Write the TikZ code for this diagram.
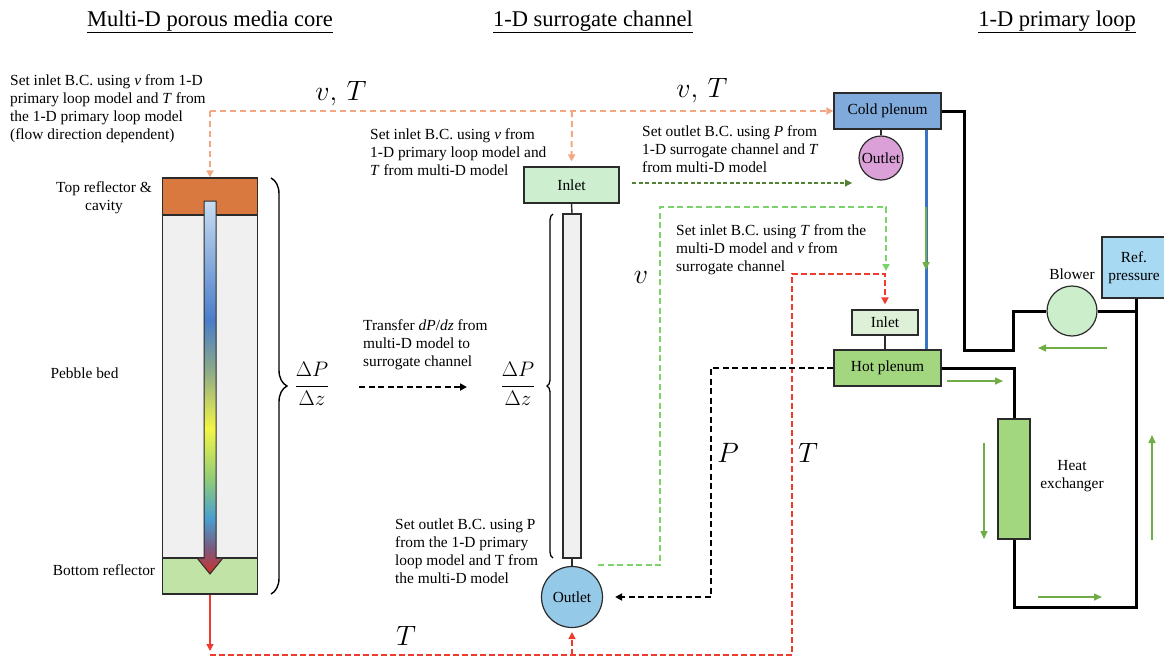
\RequirePackage{fix-cm}
\documentclass[tikz,border=0pt]{standalone}
\usepackage{fontspec}
\setmainfont{Liberation Serif}
\usetikzlibrary{arrows.meta,decorations.pathreplacing}

% fills and line colours
\definecolor{boxline}{HTML}{2B2B2B}
\definecolor{topref}{HTML}{D9793F}
\definecolor{bedgrey}{HTML}{F0F0F0}
\definecolor{botref}{HTML}{C1E3A5}
\definecolor{sinlet}{HTML}{CDEFD0}
\definecolor{soutlet}{HTML}{95C9E8}
\definecolor{coldfill}{HTML}{7FAADB}
\definecolor{poutlet}{HTML}{DCA0D9}
\definecolor{hotfill}{HTML}{A3D77F}
\definecolor{hinlet}{HTML}{DEF0D8}
\definecolor{blowerfill}{HTML}{CCEECB}
\definecolor{reffill}{HTML}{A8D9F3}
\definecolor{orgdash}{HTML}{F2A882}
\definecolor{dkgreen}{HTML}{548235}
\definecolor{ltgreen}{HTML}{7BD46A}
\definecolor{redline}{HTML}{EE3B2E}
\definecolor{bluepipe}{HTML}{3A72C4}
\definecolor{flowgreen}{HTML}{70AD47}
% temperature colours along the core flow arrow
\definecolor{flowtop}{HTML}{C8DDF2}
\definecolor{flowblue}{HTML}{4A7DC9}
\definecolor{flowteal}{HTML}{8AA88A}
\definecolor{flowyellow}{HTML}{F3F545}
\definecolor{flowlgreen}{HTML}{8CCB7A}
\definecolor{flowcyan}{HTML}{4A9FD0}
\definecolor{flowpurple}{HTML}{7A5A80}
\definecolor{flowred}{HTML}{D03028}

\pgfdeclareverticalshading{coreflow}{100bp}{%
  color(0bp)=(flowred); color(25bp)=(flowred);
  color(28.5bp)=(flowpurple); color(32.5bp)=(flowcyan);
  color(37.5bp)=(flowlgreen); color(44.5bp)=(flowyellow);
  color(52.5bp)=(flowteal); color(59bp)=(flowblue);
  color(75bp)=(flowtop); color(100bp)=(flowtop)}

\newcommand\bodyfont{\fontsize{15.4}{18}\selectfont}
\newcommand\headfont{\fontsize{22.5}{27}\selectfont}
\newcommand\symfont{\fontsize{28}{32}\selectfont}
\newcommand\fracfont{\fontsize{21}{25}\selectfont}

\tikzset{
  x=1pt, y=-1pt,
  box/.style={draw=boxline, line width=1.2pt, inner sep=0pt, font=\bodyfont},
  lbl/.style={inner sep=0pt, align=left, font=\bodyfont},
  head/.style={inner sep=0pt, font=\headfont},
  sym/.style={inner sep=0pt, font=\symfont},
  tip/.style={-{Triangle[length=7pt,width=7pt]}},
  link/.style={draw=boxline, line width=1.4pt},
  orgline/.style={draw=orgdash, line width=2pt, dash pattern=on 6pt off 4pt, tip},
  dgline/.style={draw=dkgreen, line width=1.2pt, dash pattern=on 4pt off 2.5pt, tip},
  lgline/.style={draw=ltgreen, line width=1.8pt, dash pattern=on 6pt off 3.5pt, tip},
  redd/.style={draw=redline, line width=1.8pt, dash pattern=on 6pt off 3pt, tip},
  reds/.style={draw=redline, line width=1.5pt, tip},
  blkd/.style={draw=black, line width=1.8pt, dash pattern=on 6pt off 3.5pt, tip},
  loopline/.style={draw=black, line width=3pt, line join=miter},
  pipe/.style={draw=bluepipe, line width=3pt},
  flow/.style={draw=flowgreen, line width=1.5pt, -{Triangle[length=8pt,width=7pt]}},
  bigbrace/.style={draw=black, line width=1.4pt, decorate, decoration={brace, amplitude=16pt}},
  smallbrace/.style={draw=black, line width=1.3pt, decorate, decoration={brace, amplitude=6pt}},
}

\begin{document}
\begin{tikzpicture}
\useasboundingbox (0,0) rectangle (1164,656);

% ---------- column headings ----------
\node[head, anchor=base] (h1) at (210,26) {\underline{Multi-D porous media core}};
\node[head, anchor=base] (h2) at (593,26) {\underline{1-D surrogate channel}};
\node[head, anchor=base] (h3) at (1057,26) {\underline{1-D primary loop}};

% ---------- porous media core ----------
\node[box, fill=topref, minimum width=95pt, minimum height=37pt] (coreTop) at (210,196.5) {};
\node[box, fill=bedgrey, minimum width=95pt, minimum height=343pt] (coreBed) at (210,386.5) {};
\node[box, fill=botref, minimum width=95pt, minimum height=36pt] (coreBot) at (210,576) {};
\shadedraw[shading=coreflow, draw=boxline, line width=1pt]
  (204,201) -- (216,201) -- (216,558) -- (223,558) -- (210,574) -- (197,558) -- (204,558) -- cycle;

\node[lbl, align=center, anchor=north] (topLbl) at (104,181.5) {Top reflector \&\\cavity};
\node[lbl, anchor=base] (bedLbl) at (84.5,378) {Pebble bed};
\node[lbl, anchor=base] (botLbl) at (104,575) {Bottom reflector};

\draw[bigbrace] (271,178) -- (271,594);
\node[inner sep=0pt, font=\fracfont] (dpdz1) at (312,384) {$\displaystyle\frac{\Delta P}{\Delta z}$};

% ---------- transfer of the pressure gradient ----------
\node[lbl, anchor=north west] (xferLbl) at (363,319.5)
  {Transfer \textit{dP}/\textit{dz} from\\multi-D model to\\surrogate channel};
\coordinate (xferA) at (359,387);
\coordinate (xferB) at (467,387);
\draw[blkd] (xferA) -- (xferB);

% ---------- surrogate channel ----------
\node[inner sep=0pt, font=\fracfont] (dpdz2) at (518,384) {$\displaystyle\frac{\Delta P}{\Delta z}$};
\node[box, fill=sinlet, minimum width=95pt, minimum height=36pt] (sInlet) at (571.5,185) {Inlet};
\node[box, fill=bedgrey, minimum width=18pt, minimum height=344pt] (chan) at (572,386) {};
\node[box, circle, fill=soutlet, minimum size=61pt] (sOutlet) at (572,597) {Outlet};
\draw[link] (sInlet.south) -- (chan.north);
\draw[link] (chan.south) -- (sOutlet.north);
\draw[smallbrace] (553,558) -- (553,214);

% ---------- primary loop ----------
\node[box, fill=coldfill, minimum width=107pt, minimum height=36pt] (cold) at (887.5,111) {Cold plenum};
\node[box, circle, fill=poutlet, minimum size=44pt] (pOutlet) at (881,158) {Outlet};
\node[box, fill=hotfill, minimum width=107pt, minimum height=36pt] (hot) at (887.5,368) {Hot plenum};
\node[box, fill=hinlet, minimum width=66pt, minimum height=25pt] (hInlet) at (885,322.5) {Inlet};
\node[box, circle, fill=blowerfill, minimum size=50pt] (blower) at (1072,311) {};
\node[box, fill=reffill, minimum width=64pt, minimum height=61pt, align=center] (ref) at (1134,267.5) {Ref.\\pressure};
\node[box, fill=hotfill, minimum width=32pt, minimum height=120pt] (hx) at (1014,479) {};

\node[lbl, anchor=base] (blowerLbl) at (1072,279) {Blower};
\node[lbl, align=center, anchor=north] (hxLbl) at (1072,460.5) {Heat\\exchanger};

\draw[link] (cold.south -| pOutlet) -- (pOutlet.north);
\draw[link] (hInlet.south) -- (hot.north -| hInlet);

% loop piping
\coordinate (k1) at (964,350);
\coordinate (k2) at (1013,311);
\coordinate (k4) at (1136,311);
\coordinate (k6) at (1136,607);
\coordinate (bx) at (926,0);
\draw[loopline] (cold.east) -| (k1) -| (k2) -- (blower.west);
\draw[loopline] (blower.east) -- (k4);
\draw[loopline] (ref.south -| k4) -- (k6) -| (hx.south);
\draw[loopline] (hx.north) |- (hot.east);
\draw[pipe] (cold.south -| bx) -- (hot.north -| bx);

% flow direction arrows
\coordinate (gA) at (926,207);  \coordinate (gB) at (926,270);
\coordinate (f1a) at (1107,348); \coordinate (f1b) at (1038,348);
\coordinate (f2a) at (947,381);  \coordinate (f2b) at (1003,381);
\coordinate (f3a) at (984,443);  \coordinate (f3b) at (984,539);
\coordinate (f4a) at (1038,597); \coordinate (f4b) at (1102,597);
\coordinate (f5a) at (1152,540); \coordinate (f5b) at (1152,435);
\draw[flow] (gA) -- (gB);
\draw[flow] (f1a) -- (f1b);
\draw[flow] (f2a) -- (f2b);
\draw[flow] (f3a) -- (f3b);
\draw[flow] (f4a) -- (f4b);
\draw[flow] (f5a) -- (f5b);

% ---------- boundary-condition notes ----------
\node[lbl, anchor=north west] (noteCore) at (10,74.5)
  {Set inlet B.C. using \textit{v} from 1-D\\primary loop model and \textit{T} from\\the 1-D primary loop model\\(flow direction dependent)};
\node[lbl, anchor=north west] (noteSIn) at (370,128.5)
  {Set inlet B.C. using \textit{v} from\\1-D primary loop model and\\\textit{T} from multi-D model};
\node[lbl, anchor=north west] (notePOut) at (642,125.5)
  {Set outlet B.C. using \textit{P} from\\1-D surrogate channel and \textit{T}\\from multi-D model};
\node[lbl, anchor=north west] (notePIn) at (676,224.5)
  {Set inlet B.C. using \textit{T} from the\\multi-D model and \textit{v} from\\surrogate channel};
\node[lbl, anchor=north west] (noteSOut) at (395,518.5)
  {Set outlet B.C. using P\\from the 1-D primary\\loop model and T from\\the multi-D model};

% ---------- exchanged quantities ----------
\node[sym, anchor=base] (vT1) at (341,100) {$v,\,T$};
\node[sym, anchor=base] (vT2) at (702,97) {$v,\,T$};
\node[sym, anchor=base] (vLbl) at (641,283) {$v$};
\node[sym, anchor=base] (pLbl) at (728,462) {$P$};
\node[sym, anchor=base] (tLbl) at (808,462) {$T$};
\node[sym, anchor=base] (tLbl2) at (406,645) {$T$};

% v, T from the primary loop
\coordinate (oL) at (210,111);
\coordinate (oM) at (572,111);
\draw[orgline] (oL) -- (cold.west);
\draw[orgline] (oL) -- (coreTop.north);
\draw[orgline, shorten >=5pt] (oM) -- (sInlet.north);

% P from surrogate channel to cold plenum outlet
\coordinate (dgA) at (632,183);
\coordinate (dgB) at (852,183);
\draw[dgline] (dgA) -- (dgB);

% v from surrogate channel to hot plenum inlet
\coordinate (lgA) at (598,565);
\coordinate (lgB) at (660,207);
\coordinate (lgEnd) at (886,271);
\draw[lgline] (lgA) -| (lgB) -| (lgEnd);

% T from the core
\coordinate (rTip) at (210,651);
\coordinate (rA) at (210,655);
\coordinate (rM) at (572,655);
\coordinate (rB) at (792,655);
\coordinate (rC) at (792,274);
\coordinate (rD) at (885,274);
\draw[reds] (coreBot.south) -- (rTip);
\draw[redd, shorten >=5pt] (rA) -- (rB) -- (rC) -- (rD) -- (hInlet.north);
\draw[redd, shorten >=4pt] (rM) -- (sOutlet.south);

% P from hot plenum to surrogate outlet
\coordinate (bCorner) at (711,597);
\draw[blkd, shorten >=12pt] (hot.west) -| (bCorner) -- (sOutlet.east);

\end{tikzpicture}
\end{document}
